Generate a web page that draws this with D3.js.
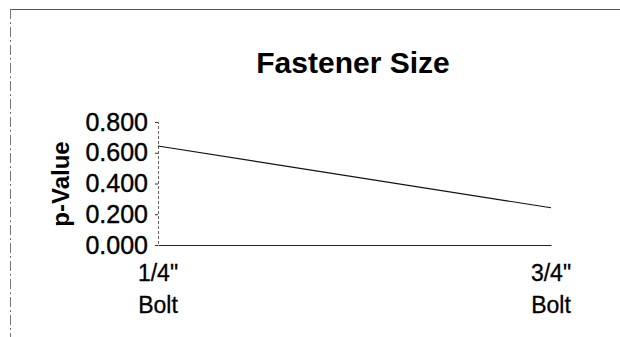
<!DOCTYPE html>
<html>
<head>
<meta charset="utf-8">
<script src="https://cdn.jsdelivr.net/npm/d3@7"></script>
<style>
  html, body { margin: 0; padding: 0; background: #fff; }
  svg { display: block; }
  text { font-family: Arial, "Liberation Sans", sans-serif; fill: #000; }
</style>
</head>
<body>
<svg id="chart" width="620" height="337"></svg>
<script>
// Chart data
const categories = [["1/4\"", "Bolt"], ["3/4\"", "Bolt"]];
const pValues = [0.644, 0.242];
const yTicks = [0, 0.2, 0.4, 0.6, 0.8];
const titleText = "Fastener Size";
const yTitle = "p-Value";

const svg = d3.select("#chart");
const W = 620, H = 337;
const plot = { left: 158, right: 551, top: 122, bottom: 245 };

// Outer frame (top and left edges)
svg.append("line")
  .attr("x1", 10).attr("x2", W).attr("y1", 9.5).attr("y2", 9.5)
  .attr("stroke", "#555").attr("stroke-width", 1.2);
svg.append("line")
  .attr("x1", 10.5).attr("x2", 10.5).attr("y1", 9).attr("y2", H)
  .attr("stroke", "#777").attr("stroke-width", 1)
  .attr("stroke-dasharray", "10,3,2,3");

const x = d3.scalePoint()
  .domain(d3.range(categories.length))
  .range([plot.left, plot.right])
  .padding(0);

const y = d3.scaleLinear()
  .domain([0, 0.8])
  .range([plot.bottom, plot.top]);

// Title
svg.append("text")
  .attr("x", 353).attr("y", 73)
  .attr("text-anchor", "middle")
  .attr("font-size", 30).attr("font-weight", "bold")
  .text(titleText);

// Y axis
const yAxis = d3.axisLeft(y)
  .tickValues(yTicks)
  .tickFormat(d3.format(".3f"))
  .tickSize(3)
  .tickPadding(7);
const gy = svg.append("g")
  .attr("transform", `translate(${plot.left},0)`)
  .call(yAxis);
gy.select(".domain").attr("stroke", "#666").attr("stroke-width", 1)
  .attr("stroke-dasharray", "3,2");
gy.selectAll(".tick line").attr("stroke", "#333");
gy.selectAll(".tick text")
  .attr("font-size", 25)
  .attr("font-family", "Arial, 'Liberation Sans', sans-serif")
  .attr("fill", "#000")
  .attr("stroke", "#000")
  .attr("stroke-width", 0.4);

// X axis baseline
const xAxis = d3.axisBottom(x).tickSize(0).tickFormat("");
const gx = svg.append("g")
  .attr("transform", `translate(0,${plot.bottom})`)
  .call(xAxis);
gx.select(".domain").attr("stroke", "#222").attr("stroke-width", 1.2);

// Category labels (two lines)
categories.forEach((lines, i) => {
  const t = svg.append("text")
    .attr("x", x(i))
    .attr("text-anchor", "middle")
    .attr("font-size", 23)
    .attr("stroke", "#000")
    .attr("stroke-width", 0.3);
  lines.forEach((s, j) => {
    t.append("tspan")
      .attr("x", x(i))
      .attr("y", 281 + j * 32)
      .text(s);
  });
});

// Y axis title
svg.append("text")
  .attr("transform", "translate(69,184) rotate(-90)")
  .attr("text-anchor", "middle")
  .attr("font-size", 24).attr("font-weight", "bold")
  .text(yTitle);

// Data line
const line = d3.line()
  .x((d, i) => x(i))
  .y(d => y(d));
svg.append("path")
  .datum(pValues)
  .attr("d", line)
  .attr("fill", "none")
  .attr("stroke", "#111")
  .attr("stroke-width", 1.1);
</script>
</body>
</html>
